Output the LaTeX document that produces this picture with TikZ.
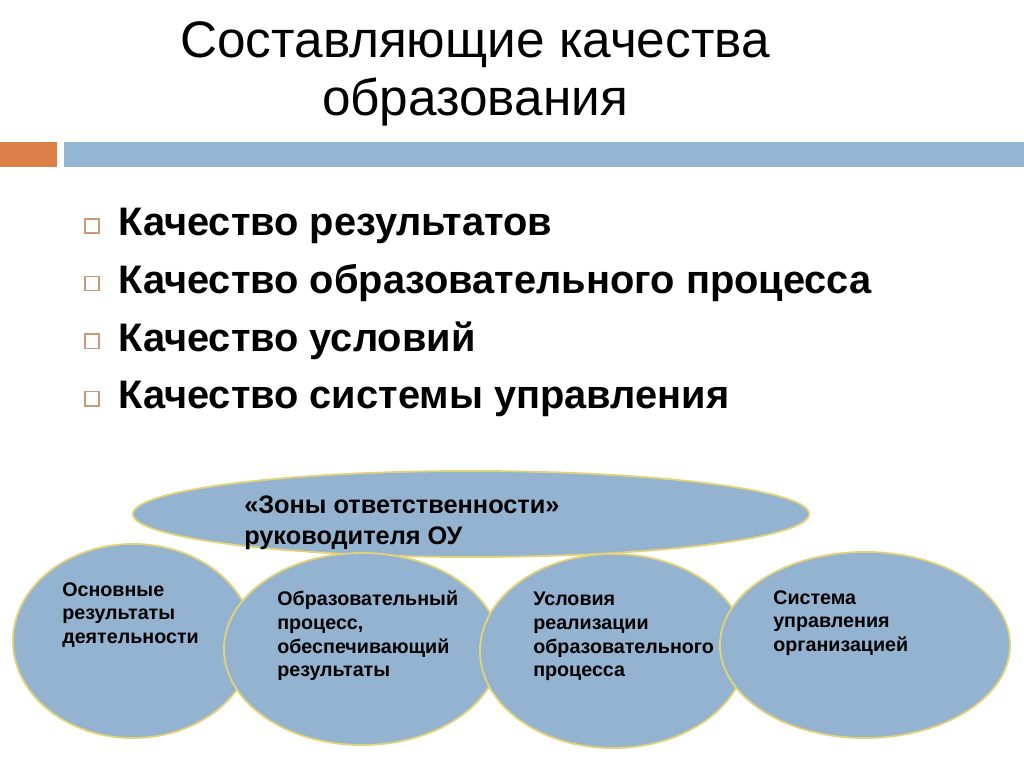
\documentclass[tikz,border=0pt]{standalone}
\usepackage{fontspec}
\setmainfont{Liberation Sans}
\usetikzlibrary{shapes}
\definecolor{barorange}{HTML}{DD8047}
\definecolor{barblue}{HTML}{94B6D2}
\definecolor{ovalfill}{HTML}{93B3D1}
\definecolor{ovalline}{HTML}{E2D27A}
\definecolor{boxline}{HTML}{C8997A}

\begin{document}
\begin{tikzpicture}[x=0.025cm,y=-0.025cm]
\useasboundingbox (0,0) rectangle (1024,767);
\tikzstyle{oval}=[shape=ellipse, draw=ovalline, line width=1.3pt, fill=ovalfill, inner sep=0pt];
\tikzstyle{ovaltext}=[anchor=north west, align=left, inner sep=0pt, font=\bfseries\fontsize{14}{16.8}\selectfont];
\tikzstyle{tick}=[draw=boxline, line width=1pt, minimum size=10pt, inner sep=0pt];

% title
\node[align=center, font=\fontsize{36.5}{41}\selectfont] (title) at (475,74) {Составляющие качества\\образования};

% bars
\fill[barorange] (0,142) rectangle (57,167);
\fill[barblue] (64,142) rectangle (1024,167);

% list
\foreach \t [count=\i] in {Качество результатов, Качество образовательного процесса, Качество условий, Качество системы управления}
{
\node[tick] (b\i) at (92,{226+57.6*(\i-1)}) {};
\node[anchor=base west, inner sep=0pt, font=\bfseries\fontsize{28.3}{34}\selectfont] (k\i) at (118,{236+57.6*(\i-1)}) {\t};
}

% ovals
\node[oval, minimum width=16.9cm, minimum height=2.15cm] (zone) at (471,514) {};
\node[oval, minimum width=6cm, minimum height=4.85cm] (e1) at (133,641) {};
\node[oval, minimum width=6.9cm, minimum height=4.8cm] (e2) at (362,649) {};
\node[oval, minimum width=6.65cm, minimum height=4.85cm] (e3) at (613,651) {};
\node[oval, minimum width=7.25cm, minimum height=4.65cm] (e4) at (865,645) {};

\node[anchor=north west, align=left, inner sep=0pt, font=\bfseries\fontsize{18}{21.5}\selectfont] (zt) at (244,496) {«Зоны ответственности»\\руководителя ОУ};
\node[ovaltext] (t1) at (62,582) {Основные\\результаты\\деятельности};
\node[ovaltext] (t2) at (277,591) {Образовательный\\процесс,\\обеспечивающий\\результаты};
\node[ovaltext] (t3) at (533,592) {Условия\\реализации\\образовательного\\процесса};
\node[ovaltext] (t4) at (773,590) {Система\\управления\\организацией};
\end{tikzpicture}
\end{document}
